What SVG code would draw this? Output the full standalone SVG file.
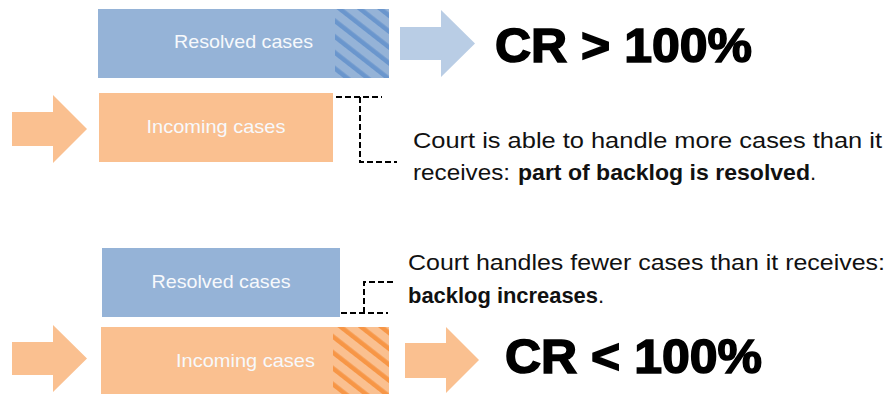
<svg xmlns="http://www.w3.org/2000/svg" width="893" height="394" viewBox="0 0 893 394">
<defs>
<pattern id="hatchBlue" patternUnits="userSpaceOnUse" width="12.5" height="12.5" patternTransform="rotate(-52)">
<rect width="12.5" height="12.5" fill="#95B3D7"/>
<rect x="0" y="0" width="4.5" height="12.5" fill="#6A96CD"/>
</pattern>
<pattern id="hatchOrange" patternUnits="userSpaceOnUse" width="12.5" height="12.5" patternTransform="rotate(-52)">
<rect width="12.5" height="12.5" fill="#FAC090"/>
<rect x="0" y="0" width="4.5" height="12.5" fill="#F79646"/>
</pattern>
<style>
.blue{fill:#95B3D7}
.orange{fill:#FAC090}
.lbl{font-family:"Liberation Sans",Arial,sans-serif;font-size:19px;fill:#F7F9FC;text-anchor:middle}
.cr{font-family:"Liberation Sans",Arial,sans-serif;font-size:49px;font-weight:bold;fill:#000;stroke:#000;stroke-width:1.6}
.desc{font-family:"Liberation Sans",Arial,sans-serif;font-size:22px;fill:#111}
.b{font-weight:bold}
.dash{fill:none;stroke:#000;stroke-width:2;stroke-dasharray:6 3}
</style>
</defs>

<g id="top-resolved">
<rect class="blue" x="98" y="9" width="237" height="69"/>
<rect x="335" y="9" width="54" height="69" fill="url(#hatchBlue)"/>
<text class="lbl" x="243.5" y="48" textLength="139" lengthAdjust="spacingAndGlyphs">Resolved cases</text>
</g>
<g id="top-incoming">
<rect class="orange" x="99" y="93" width="234" height="69"/>
<text class="lbl" x="216" y="133" textLength="139" lengthAdjust="spacingAndGlyphs">Incoming cases</text>
</g>
<g id="top-result">
<text class="cr" x="495" y="62" textLength="257" lengthAdjust="spacingAndGlyphs">CR &gt; 100%</text>
</g>
<g id="top-note">
<text class="desc" x="413" y="148" textLength="469" lengthAdjust="spacingAndGlyphs">Court is able to handle more cases than it</text>
<text class="desc" y="180"><tspan x="413" textLength="97" lengthAdjust="spacingAndGlyphs">receives:</tspan><tspan class="b" x="518" textLength="292" lengthAdjust="spacingAndGlyphs">part of backlog is resolved</tspan><tspan x="810">.</tspan></text>
</g>

<g id="bottom-resolved">
<rect class="blue" x="102" y="248" width="238" height="69"/>
<text class="lbl" x="221" y="288" textLength="139" lengthAdjust="spacingAndGlyphs">Resolved cases</text>
</g>
<g id="bottom-incoming">
<rect class="orange" x="101" y="327" width="232" height="67"/>
<rect x="333" y="327" width="56" height="67" fill="url(#hatchOrange)"/>
<text class="lbl" x="245.5" y="367" textLength="139" lengthAdjust="spacingAndGlyphs">Incoming cases</text>
</g>
<g id="bottom-result">
<text class="cr" x="505" y="373" textLength="257" lengthAdjust="spacingAndGlyphs">CR &lt; 100%</text>
</g>
<g id="bottom-note">
<text class="desc" x="408" y="270" textLength="477" lengthAdjust="spacingAndGlyphs">Court handles fewer cases than it receives:</text>
<text class="desc" y="303"><tspan class="b" x="408" textLength="190" lengthAdjust="spacingAndGlyphs">backlog increases</tspan><tspan x="598">.</tspan></text>
</g>

<g id="connectors">
<polygon fill="#B9CDE5" points="400,27 441,27 441,10 475,43.5 441,77 441,60 400,60"/>
<polygon fill="#FAC090" points="12,112 53,112 53,95 87,129 53,163 53,146 12,146"/>
<polygon fill="#FAC090" points="12,342 53,342 53,325 87,358.5 53,392 53,375 12,375"/>
<polygon fill="#FAC090" points="405,343 446,343 446,327 479,360 446,393 446,378 405,378"/>
<path class="dash" d="M336,97 H382 M360,97 V162 H397"/>
<path class="dash" d="M341,313 H388 M364,313 V282 H394"/>
</g>
</svg>
